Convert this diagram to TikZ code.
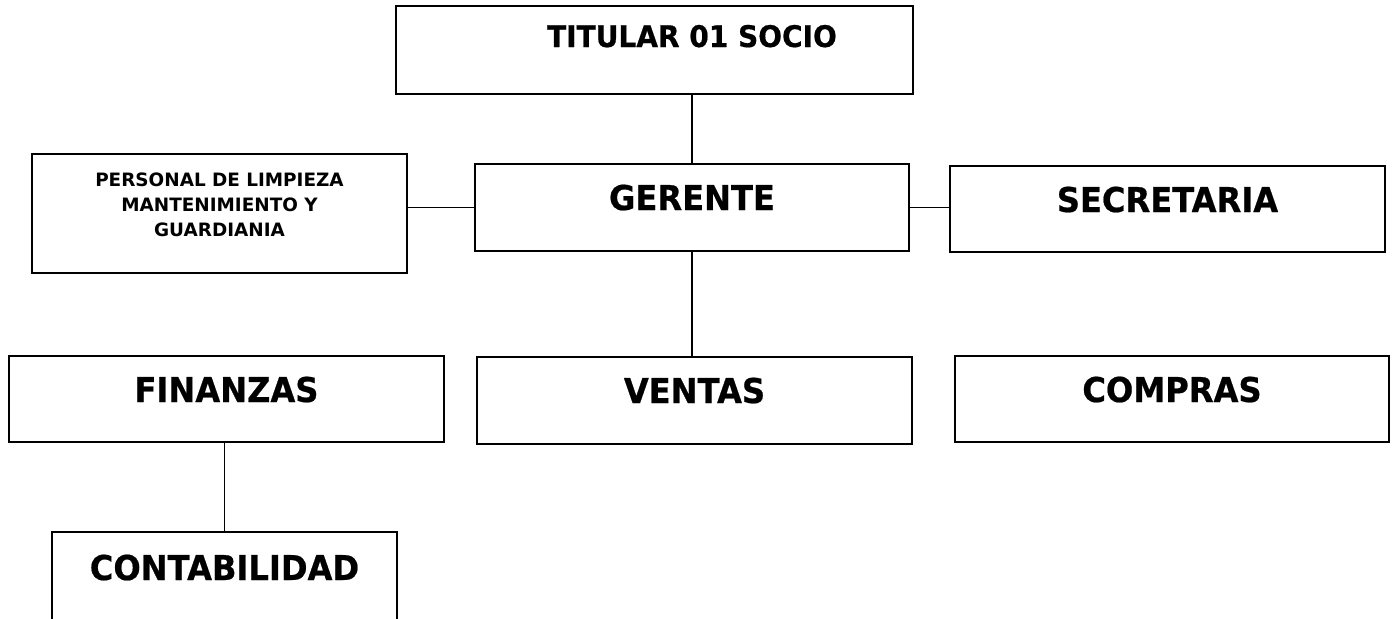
\documentclass[tikz,border=0pt]{standalone}
\usepackage{fontspec}
\setmainfont{DejaVu Sans}
\newfontfamily\bigfont{DejaVu Sans}[FakeStretch=0.94, FakeBold=0.6]

\begin{document}
\begin{tikzpicture}[%
  x=0.5pt, y=-0.5pt,
  block/.style={rectangle, draw, line width=0.9pt, inner sep=0pt},
  head/.style={anchor=base, inner sep=0pt, font=\bigfont\bfseries\fontsize{17.1}{20}\selectfont},
  link/.style={line width=0.9pt},
  ]
  \useasboundingbox (0,0) rectangle (1394,618);
  \clip (0,0) rectangle (1394,618);
  % boxes
  \node[block, minimum width=258.5pt, minimum height=44pt] (titular) at (654.5,50) {};
  \node[block, minimum width=187.5pt, minimum height=59.5pt] (personal) at (219.5,213.5) {};
  \node[block, minimum width=217pt, minimum height=43.5pt] (gerente) at (692,207.5) {};
  \node[block, minimum width=217.5pt, minimum height=43pt] (secretaria) at (1167.5,209) {};
  \node[block, minimum width=217.5pt, minimum height=43pt] (finanzas) at (226.5,399) {};
  \node[block, minimum width=217.5pt, minimum height=43.5pt] (ventas) at (694.5,400.5) {};
  \node[block, minimum width=217pt, minimum height=43pt] (compras) at (1172,399) {};
  \node[block, minimum width=172.5pt, minimum height=54pt] (contabilidad) at (224.5,586) {};
  % texts
  \node[head, font=\bigfont\bfseries\fontsize{14.9}{18}\selectfont] (titular-t) at (692,47) {TITULAR 01 SOCIO};
  \node[anchor=north, inner sep=0pt, align=center, font=\bfseries\fontsize{9.2}{12.5}\selectfont] (personal-t) at (219.5,172)
    {PERSONAL DE LIMPIEZA\\MANTENIMIENTO Y\\GUARDIANIA};
  \node[head] (gerente-t) at (692,210) {GERENTE};
  \node[head] (secretaria-t) at (1167.5,212) {SECRETARIA};
  \node[head] (finanzas-t) at (226.5,402) {FINANZAS};
  \node[head] (ventas-t) at (694.5,403) {VENTAS};
  \node[head] (compras-t) at (1172,402) {COMPRAS};
  \node[head] (contabilidad-t) at (224.5,580) {CONTABILIDAD};
  % lines
  \draw[link] (titular.south -| gerente.north) -- (gerente.north);
  \draw[link] (personal.east |- gerente.west) -- (gerente.west);
  \draw[link] (gerente.east) -- (gerente.east -| secretaria.west);
  \draw[link] (gerente.south) -- (gerente.south |- ventas.north);
  \draw[link] (contabilidad.north |- finanzas.south) -- (contabilidad.north);
\end{tikzpicture}
\end{document}
